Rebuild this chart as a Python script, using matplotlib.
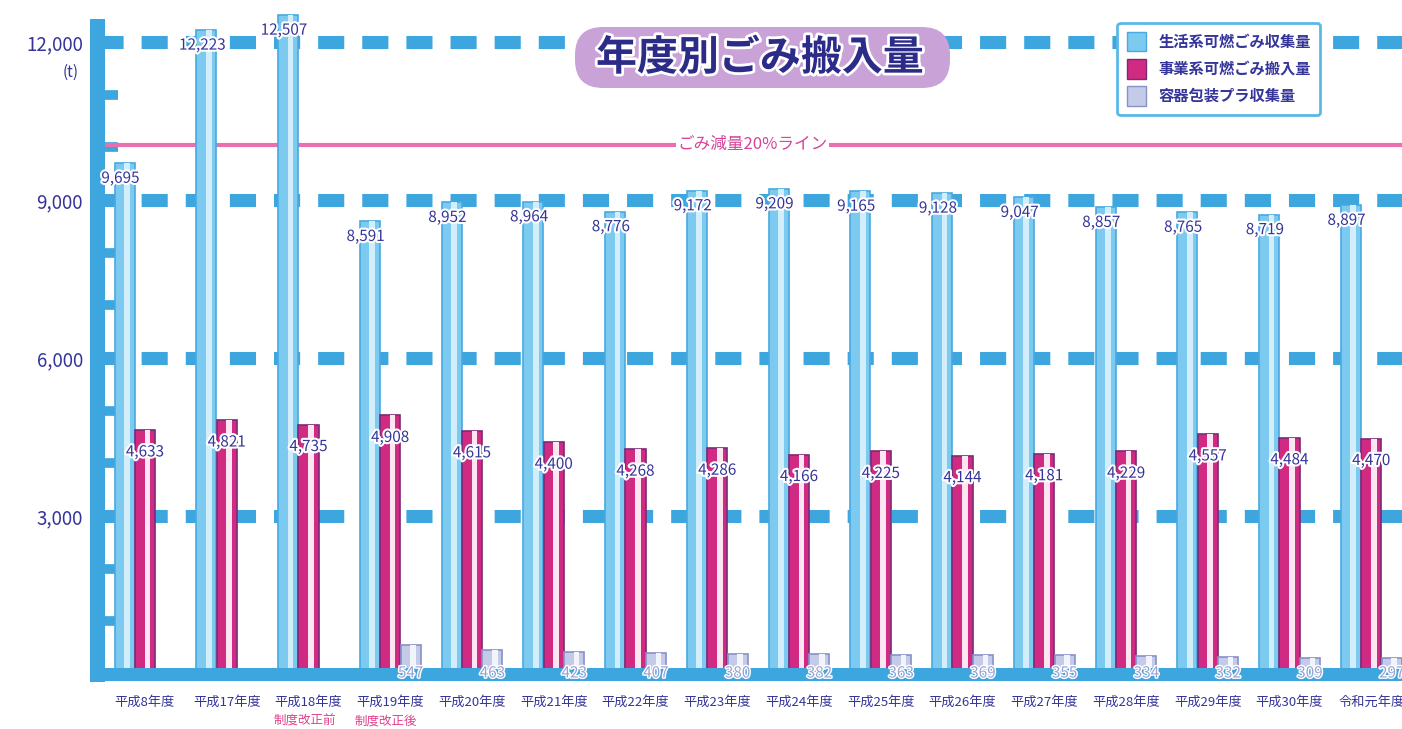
import numpy as np
import matplotlib.pyplot as plt
import matplotlib.patheffects as pe
from matplotlib.patches import Patch, FancyBboxPatch
from matplotlib.transforms import IdentityTransform

plt.rcParams['font.family'] = ['Noto Sans CJK JP', 'DejaVu Sans']

# data (t)
years = ['平成8年度', '平成17年度', '平成18年度', '平成19年度', '平成20年度',
         '平成21年度', '平成22年度', '平成23年度', '平成24年度', '平成25年度',
         '平成26年度', '平成27年度', '平成28年度', '平成29年度', '平成30年度',
         '令和元年度']
household = [9695, 12223, 12507, 8591, 8952, 8964, 8776, 9172, 9209, 9165,
             9128, 9047, 8857, 8765, 8719, 8897]
business = [4633, 4821, 4735, 4908, 4615, 4400, 4268, 4286, 4166, 4225,
            4144, 4181, 4229, 4557, 4484, 4470]
plastic = [np.nan, np.nan, np.nan, 547, 463, 423, 407, 380, 382, 363,
           369, 355, 334, 332, 309, 297]
series_names = ['生活系可燃ごみ収集量', '事業系可燃ごみ搬入量', '容器包装プラ収集量']
reduction_line = 10050
notes = {2: '制度改正前', 3: '制度改正後'}

BLUE = '#3ea6de'
NAVY = '#34349a'
PINK = '#e870b0'

fig = plt.figure(figsize=(14.02, 7.29), dpi=100)
ax = fig.add_axes([97 / 1402, 55 / 729, 1305 / 1402, 669 / 729])
ax.set_xlim(-0.587, 15.376)
ax.set_ylim(0, 12700)

# dashed guide lines
for v in [3000, 6000, 9000, 12000]:
    ax.axhline(v, color=BLUE, lw=9.4, linestyle=(0, (2.0, 1.38)), zorder=1)

# 20% reduction line
ax.axhline(reduction_line, color=PINK, lw=3, zorder=2)
ax.text(7.43, reduction_line, 'ごみ減量20%ライン', color='#d4449a', fontsize=12,
        ha='center', va='center', zorder=2.5,
        bbox=dict(facecolor='white', edgecolor='none', pad=1))

x = np.arange(len(years))
w = 0.245
styles = [
    (household, -0.25, '#7ccaf0', '#49a9e0', '#d2eefb'),
    (business, 0.0, '#d02a82', '#7a2a78', '#fbe6f2'),
    (plastic, 0.25, '#c4cbe9', '#8890c8', '#f2f4fc'),
]
outline = [pe.withStroke(linewidth=3, foreground='white')]
for vals, off, fc, ec, hl in styles:
    vals = np.array(vals, dtype=float)
    ok = ~np.isnan(vals)
    ax.bar(x[ok] + off, vals[ok], w, color=fc, edgecolor=ec, linewidth=1.2, zorder=3)
    ax.bar(x[ok] + off + 0.03, vals[ok], w * 0.28, color=hl, linewidth=0, zorder=4)

for i in range(len(years)):
    ax.annotate(f'{household[i]:,}', (x[i] - 0.3, household[i]), xytext=(0, -15),
                textcoords='offset pixels', ha='center', va='center',
                fontsize=11, color=NAVY, zorder=6, path_effects=outline)
    ax.annotate(f'{business[i]:,}', (x[i], business[i]), xytext=(0, -22),
                textcoords='offset pixels', ha='center', va='center',
                fontsize=11, color=NAVY, zorder=6, path_effects=outline)
    if not np.isnan(plastic[i]):
        ax.annotate(f'{int(plastic[i])}', (x[i] + 0.25, 0), xytext=(0, 1),
                    textcoords='offset pixels', ha='center', va='center',
                    fontsize=11, color='#9aa2d4', zorder=6,
                    path_effects=[pe.withStroke(linewidth=2, foreground='white')])

# axes styling
for s in ['top', 'right']:
    ax.spines[s].set_visible(False)
ax.spines['left'].set_color(BLUE)
ax.spines['left'].set_linewidth(10.8)
ax.spines['left'].set_bounds(0, 12300)
ax.spines['bottom'].set_color(BLUE)
ax.spines['bottom'].set_linewidth(9.4)
ax.spines['left'].set_zorder(5)
ax.spines['bottom'].set_zorder(5)

ax.set_yticks([3000, 6000, 9000, 12000])
ax.set_yticklabels(['3,000', '6,000', '9,000', '12,000'])
ax.set_yticks([1000, 2000, 4000, 5000, 7000, 8000, 10000, 11000], minor=True)
ax.tick_params(axis='y', which='major', length=0, pad=10, labelsize=13.5,
               labelcolor=NAVY)
ax.tick_params(axis='y', which='minor', direction='in', length=15, width=7,
               color=BLUE)
ax.set_xticks(x)
ax.set_xticklabels(years)
ax.tick_params(axis='x', length=0, pad=16, labelsize=9.5, labelcolor=NAVY)
ax.get_xticklabels()[-1].set_x(x[-1] - 0.05)
ax.text(-0.91, 11430, '(t)', fontsize=11, color=NAVY, ha='center', va='center',
        clip_on=False)

for i, t in notes.items():
    ax.text(x[i] - 0.05, -900, t, fontsize=9, color='#e0408a', ha='center',
            va='center', clip_on=False)

# title
fig.add_artist(FancyBboxPatch((575, 641), 375, 61,
                              boxstyle='round,pad=0,rounding_size=28',
                              facecolor='#c9a3d8', edgecolor='none',
                              transform=IdentityTransform()))
fig.text(760 / 1402, 1 - 58 / 729, '年度別ごみ搬入量', fontsize=29.5,
         fontweight='bold', color='#2c2c88', ha='center', va='center',
         path_effects=[pe.withStroke(linewidth=4, foreground='white')])

# legend
handles = [Patch(facecolor=fc, edgecolor=ec) for _, _, fc, ec, _ in styles]
leg = ax.legend(handles, series_names, loc='upper right',
                bbox_to_anchor=(1328 / 1402, 1 - 15 / 729),
                bbox_transform=fig.transFigure, fontsize=11,
                handlelength=1.3, handleheight=1.6, labelspacing=0.5,
                borderpad=0.6, handletextpad=0.8, fancybox=True,
                framealpha=1, edgecolor='#5ab8e8')
leg.get_frame().set_linewidth(2)
for t in leg.get_texts():
    t.set_color(NAVY)
    t.set_fontweight('bold')
leg.set_zorder(10)

fig.savefig('out.png', dpi=100)
